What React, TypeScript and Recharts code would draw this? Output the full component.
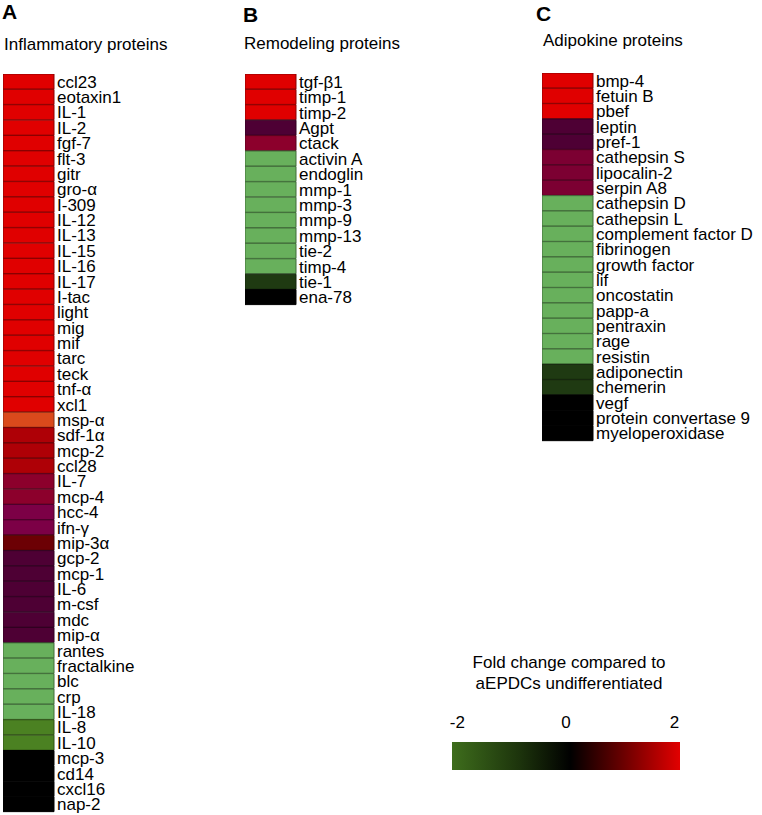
import { BarChart, Bar, XAxis, YAxis, Cell } from "recharts";

// Panel A
const inflammatoryLabels = [
  "ccl23", "eotaxin1", "IL-1", "IL-2", "fgf-7", "flt-3", "gitr", "gro-α",
  "I-309", "IL-12", "IL-13", "IL-15", "IL-16", "IL-17", "I-tac", "light",
  "mig", "mif", "tarc", "teck", "tnf-α", "xcl1", "msp-α", "sdf-1α",
  "mcp-2", "ccl28", "IL-7", "mcp-4", "hcc-4", "ifn-γ", "mip-3α", "gcp-2",
  "mcp-1", "IL-6", "m-csf", "mdc", "mip-α", "rantes", "fractalkine", "blc",
  "crp", "IL-18", "IL-8", "IL-10", "mcp-3", "cd14", "cxcl16", "nap-2",
];
const inflammatoryValues = [
  2, 2, 2, 2, 2, 2, 2, 2,
  2, 2, 2, 2, 2, 2, 2, 2,
  2, 2, 2, 2, 2, 2, 1.8, 1.4,
  1.4, 1.4, 1.0, 1.0, 0.8, 0.8, 0.6, 0.4,
  0.4, 0.4, 0.4, 0.4, 0.4, -2, -2, -2,
  -2, -2, -1, -1, 0, 0, 0, 0,
];

// Panel B
const remodelingLabels = [
  "tgf-β1", "timp-1", "timp-2", "Agpt", "ctack", "activin A", "endoglin", "mmp-1",
  "mmp-3", "mmp-9", "mmp-13", "tie-2", "timp-4", "tie-1", "ena-78",
];
const remodelingValues = [2, 2, 2, 0.4, 1.0, -2, -2, -2, -2, -2, -2, -2, -2, -0.4, 0];

// Panel C
const adipokineLabels = [
  "bmp-4", "fetuin B", "pbef", "leptin", "pref-1", "cathepsin S", "lipocalin-2", "serpin A8",
  "cathepsin D", "cathepsin L", "complement factor D", "fibrinogen", "growth factor", "lif",
  "oncostatin", "papp-a", "pentraxin", "rage", "resistin", "adiponectin", "chemerin", "vegf",
  "protein convertase 9", "myeloperoxidase",
];
const adipokineValues = [
  2, 2, 2, 0.4, 0.4, 0.9, 0.9, 0.9,
  -2, -2, -2, -2, -2, -2,
  -2, -2, -2, -2, -2, -0.4, -0.4, 0,
  0, 0,
];

// colour bar runs a little past the labelled ticks
const legendTicks = [-2, 0, 2];
const legendRange = [{ name: "fold", range: [-2.1, 2.1] }];

const FONT = '"Liberation Sans", Arial, Helvetica, sans-serif';

const palette: Record<string, string> = {
  "2.0": "#e00000",
  "1.8": "#da4a1c",
  "1.4": "#ae0006",
  "1.0": "#8c002c",
  "0.9": "#7c0032",
  "0.8": "#7c0046",
  "0.6": "#6c0004",
  "0.4": "#4e0034",
  "0.0": "#000000",
  "-0.4": "#1f3a12",
  "-1.0": "#4b8122",
  "-2.0": "#68b05c",
};

function colorFor(v: number) {
  return palette[v.toFixed(1)] ?? "#000000";
}

function darken(hex: string, f = 0.62) {
  const n = parseInt(hex.slice(1), 16);
  const r = Math.round(((n >> 16) & 255) * f);
  const g = Math.round(((n >> 8) & 255) * f);
  const b = Math.round((n & 255) * f);
  return `rgb(${r},${g},${b})`;
}

interface HeatColumnProps {
  labels: string[];
  values: number[];
  height: number;
  labelWidth: number;
}

const CELL_WIDTH = 51;
const LABEL_ROOM = 8; // room below the last row for its label

function HeatColumn({ labels, values, height, labelWidth }: HeatColumnProps) {
  const data = labels.map((name, i) => ({ name, fold: values[i], cell: 1 }));
  return (
    <BarChart
      layout="vertical"
      width={CELL_WIDTH + labelWidth}
      height={height + LABEL_ROOM}
      data={data}
      margin={{ top: 0, right: 0, bottom: LABEL_ROOM, left: 0 }}
      barCategoryGap={0}
    >
      <XAxis type="number" hide domain={[0, 1]} />
      <YAxis
        type="category"
        dataKey="name"
        orientation="right"
        width={labelWidth}
        axisLine={false}
        tickLine={false}
        tickSize={0}
        tickMargin={3}
        interval={0}
        tick={{ fontSize: 17, fill: "#000", fontFamily: FONT }}
      />
      <Bar dataKey="cell" isAnimationActive={false}>
        {data.map((d, i) => (
          <Cell key={i} fill={colorFor(d.fold)} stroke={darken(colorFor(d.fold))} strokeWidth={1} />
        ))}
      </Bar>
    </BarChart>
  );
}

function FoldLegend() {
  return (
    <BarChart
      layout="vertical"
      width={244}
      height={70}
      data={legendRange}
      margin={{ top: 0, right: 8, bottom: 0, left: 8 }}
      barCategoryGap={0}
    >
      <defs>
        <linearGradient id="foldGrad" x1="0" y1="0" x2="1" y2="0">
          <stop offset="0%" stopColor="#3e6d1c" />
          <stop offset="30%" stopColor="#1c330c" />
          <stop offset="52%" stopColor="#000000" />
          <stop offset="75%" stopColor="#6a0000" />
          <stop offset="100%" stopColor="#e20000" />
        </linearGradient>
      </defs>
      <XAxis
        type="number"
        orientation="top"
        domain={[-2.1, 2.1]}
        ticks={legendTicks}
        height={42}
        axisLine={false}
        tickLine={false}
        tickSize={0}
        tickMargin={14}
        tick={{ fontSize: 17, fill: "#000", fontFamily: FONT }}
      />
      <YAxis type="category" dataKey="name" hide />
      <Bar dataKey="range" fill="url(#foldGrad)" isAnimationActive={false} />
    </BarChart>
  );
}

const panelLetter: React.CSSProperties = {
  position: "absolute",
  fontSize: 21,
  fontWeight: "bold",
  lineHeight: "21px",
};
const panelTitle: React.CSSProperties = {
  position: "absolute",
  fontSize: 17,
  lineHeight: "17px",
  whiteSpace: "nowrap",
};

export default function App() {
  return (
    <div
      style={{
        position: "absolute",
        left: 0,
        top: 0,
        width: 762,
        height: 815,
        background: "#fff",
        fontFamily: FONT,
        color: "#000",
        overflow: "hidden",
      }}
    >
      <div style={{ ...panelLetter, left: 2, top: 1 }}>A</div>
      <div style={{ ...panelTitle, left: 4, top: 36 }}>Inflammatory proteins</div>
      <div style={{ ...panelLetter, left: 243, top: 4 }}>B</div>
      <div style={{ ...panelTitle, left: 244, top: 35 }}>Remodeling proteins</div>
      <div style={{ ...panelLetter, left: 536, top: 3 }}>C</div>
      <div style={{ ...panelTitle, left: 543, top: 32 }}>Adipokine proteins</div>

      <div style={{ position: "absolute", left: 3, top: 74 }}>
        <HeatColumn labels={inflammatoryLabels} values={inflammatoryValues} height={738} labelWidth={150} />
      </div>
      <div style={{ position: "absolute", left: 245, top: 74 }}>
        <HeatColumn labels={remodelingLabels} values={remodelingValues} height={231} labelWidth={140} />
      </div>
      <div style={{ position: "absolute", left: 542, top: 73 }}>
        <HeatColumn labels={adipokineLabels} values={adipokineValues} height={368} labelWidth={175} />
      </div>

      <div
        style={{
          position: "absolute",
          left: 440,
          top: 652,
          width: 258,
          textAlign: "center",
          fontSize: 17,
          lineHeight: "21px",
        }}
      >
        Fold change compared to
        <br />
        aEPDCs undifferentiated
      </div>
      <div style={{ position: "absolute", left: 444, top: 700 }}>
        <FoldLegend />
      </div>
    </div>
  );
}
